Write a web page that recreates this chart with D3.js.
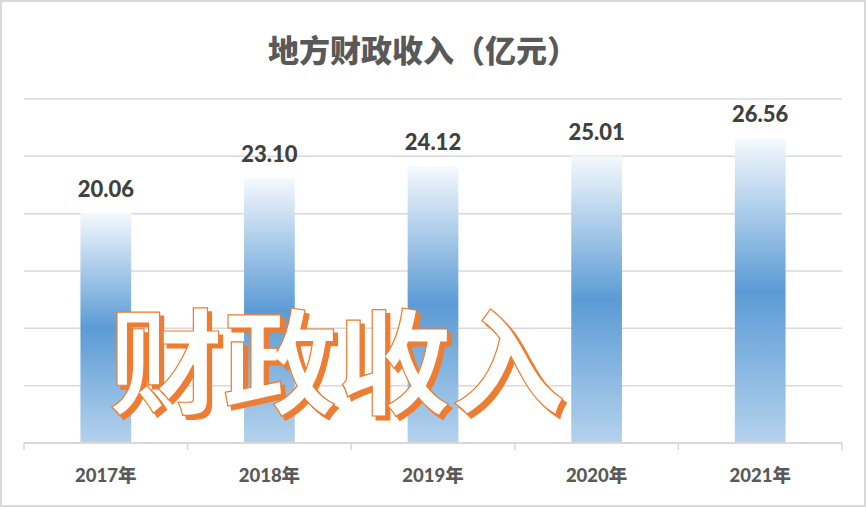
<!DOCTYPE html>
<html>
<head>
<meta charset="utf-8">
<script src="https://cdn.jsdelivr.net/npm/d3@7"></script>
<style>
  html, body { margin: 0; padding: 0; background: #fff; }
  svg { display: block; }
</style>
</head>
<body>
<div id="chart"></div>
<script>
// Local fiscal revenue per year (100 million yuan)
const years = ['2017年', '2018年', '2019年', '2020年', '2021年'];
const revenue = [20.06, 23.10, 24.12, 25.01, 26.56];
const gridTicks = [0, 5, 10, 15, 20, 25, 30];

const width = 866, height = 507;
const margin = {top: 99, left: 24, right: 24, bottom: 64};

const svg = d3.select('#chart')
    .append('svg')
    .attr('width', width)
    .attr('height', height);

const defs = svg.append('defs');

// bar gradient: pale top, blue middle, lighter bottom
const grad = defs.append('linearGradient')
    .attr('id', 'barGrad')
    .attr('x1', 0).attr('y1', 0).attr('x2', 0).attr('y2', 1);
grad.append('stop').attr('offset', '0%').attr('stop-color', '#f5f9fd');
grad.append('stop').attr('offset', '50%').attr('stop-color', '#5b9bd5');
grad.append('stop').attr('offset', '100%').attr('stop-color', '#b5d2ed');

// orange drop shadow for the big word
const shadow = defs.append('filter')
    .attr('id', 'orangeShadow')
    .attr('x', '-10%').attr('y', '-10%')
    .attr('width', '120%').attr('height', '130%');
shadow.append('feFlood').attr('flood-color', '#ed7d31').attr('result', 'flood');
shadow.append('feComposite')
    .attr('in', 'flood').attr('in2', 'SourceAlpha')
    .attr('operator', 'in').attr('result', 'solid');
shadow.append('feOffset').attr('in', 'solid').attr('dx', 4).attr('dy', 4).attr('result', 'off');
const merge = shadow.append('feMerge');
merge.append('feMergeNode').attr('in', 'off');
merge.append('feMergeNode').attr('in', 'SourceGraphic');

// outer border
svg.append('rect')
    .attr('x', 1).attr('y', 1)
    .attr('width', width - 2).attr('height', height - 2)
    .attr('fill', '#fff')
    .attr('stroke', '#d9d9d9')
    .attr('stroke-width', 2);

const x = d3.scaleBand()
    .domain(years)
    .range([margin.left, width - margin.right])
    .paddingInner(0.69)
    .paddingOuter(0.345);

const y = d3.scaleLinear()
    .domain([0, 30])
    .range([height - margin.bottom, margin.top]);

// gridlines
svg.append('g')
    .selectAll('line')
    .data(gridTicks.slice(1))
    .join('line')
    .attr('x1', margin.left)
    .attr('x2', width - margin.right)
    .attr('y1', d => y(d))
    .attr('y2', d => y(d))
    .attr('stroke', '#d9d9d9')
    .attr('stroke-width', 1.5);

// bars
svg.append('g')
    .selectAll('rect')
    .data(revenue)
    .join('rect')
    .attr('x', (d, i) => x(years[i]))
    .attr('y', d => y(d))
    .attr('width', x.bandwidth())
    .attr('height', d => y(0) - y(d))
    .attr('fill', 'url(#barGrad)');

// bottom axis with ticks between categories
const step = x.step();
const axis = svg.append('g');
axis.append('line')
    .attr('x1', margin.left).attr('x2', width - margin.right)
    .attr('y1', y(0)).attr('y2', y(0))
    .attr('stroke', '#d9d9d9').attr('stroke-width', 2);
axis.selectAll('.tick')
    .data(d3.range(years.length + 1))
    .join('line')
    .attr('class', 'tick')
    .attr('x1', i => margin.left + i * step)
    .attr('x2', i => margin.left + i * step)
    .attr('y1', y(0))
    .attr('y2', y(0) + 7)
    .attr('stroke', '#d9d9d9').attr('stroke-width', 1.5);

axis.selectAll('text')
    .data(years)
    .join('text')
    .attr('x', d => x(d) + x.bandwidth() / 2)
    .attr('y', 482)
    .attr('text-anchor', 'middle')
    .attr('font-family', 'Lato, "Noto Sans CJK SC", sans-serif')
    .attr('font-weight', 900)
    .attr('font-size', 18.5)
    .attr('fill', '#595959')
    .text(d => d);

// value labels
svg.append('g')
    .selectAll('text')
    .data(revenue)
    .join('text')
    .attr('x', (d, i) => x(years[i]) + x.bandwidth() / 2)
    .attr('y', d => y(d) - 16)
    .attr('text-anchor', 'middle')
    .attr('font-family', 'Lato, sans-serif')
    .attr('font-weight', 900)
    .attr('font-size', 22)
    .attr('fill', '#404040')
    .text(d => d.toFixed(2));

// title
svg.append('text')
    .attr('x', 423)
    .attr('y', 62)
    .attr('text-anchor', 'middle')
    .attr('font-family', '"Noto Sans CJK SC", sans-serif')
    .attr('font-weight', 900)
    .attr('font-size', 31)
    .attr('fill', '#595959')
    .text('地方财政收入（亿元）');

// big overlay word, white with orange outline and shadow
svg.append('text')
    .attr('x', 337).attr('y', 405)
    .attr('text-anchor', 'middle')
    .attr('font-family', '"Noto Sans CJK SC", sans-serif')
    .attr('font-weight', 'bold')
    .attr('font-size', 114)
    .attr('fill', '#fff')
    .attr('stroke', '#ed7d31')
    .attr('stroke-width', 1.2)
    .attr('filter', 'url(#orangeShadow)')
    .text('财政收入');
</script>
</body>
</html>
